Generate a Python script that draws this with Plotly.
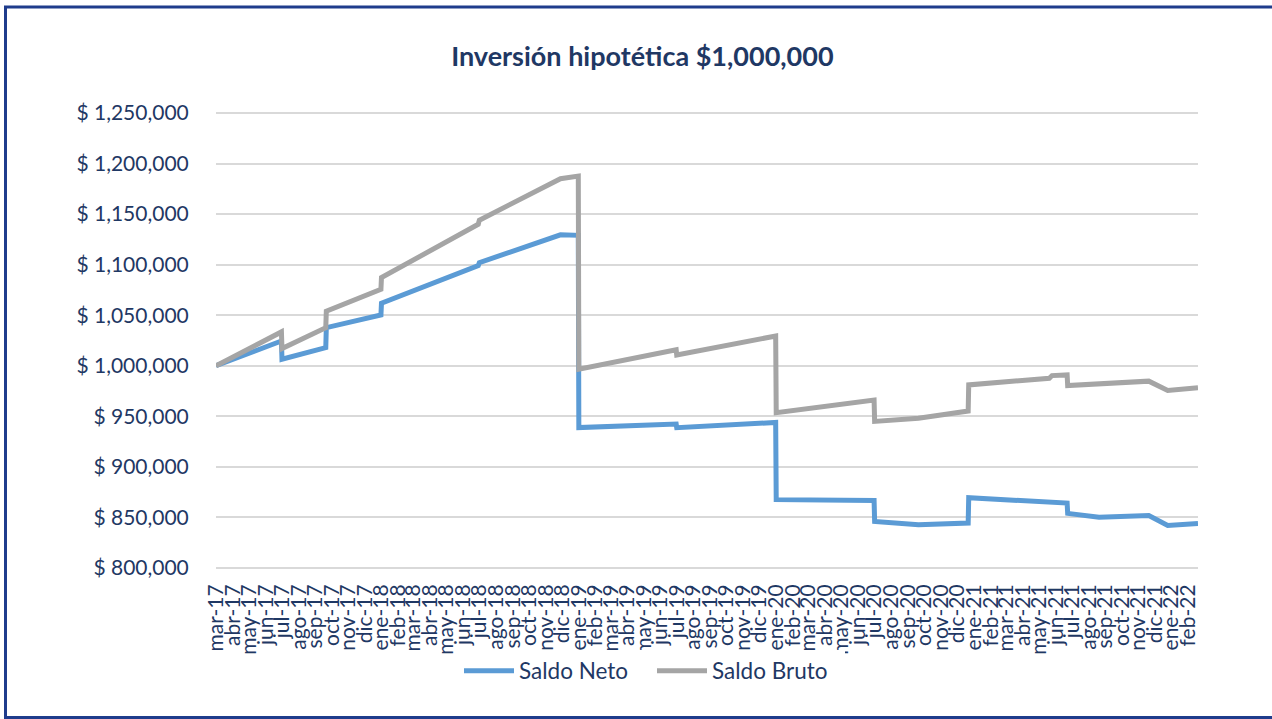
import plotly.graph_objects as go

# ---- data ----
dates = [
    "2017-03-01", "2017-06-30", "2017-07-01", "2017-09-20", "2017-09-21",
    "2017-12-31", "2018-01-01", "2018-06-29", "2018-07-01", "2018-11-28",
    "2018-12-31", "2019-01-01", "2019-06-30", "2019-07-01", "2019-12-31",
    "2020-01-01", "2020-06-30", "2020-07-01", "2020-09-20", "2020-12-21",
    "2020-12-22", "2021-05-20", "2021-05-25", "2021-06-22", "2021-06-23",
    "2021-08-20", "2021-11-20", "2021-12-25", "2022-02-19",
]
saldo_neto = [
    1000000, 1024500, 1006500, 1018000, 1037700,
    1050200, 1061800, 1099000, 1102000, 1129500,
    1129000, 938900, 942300, 938800, 943900,
    867600, 866800, 846000, 842800, 844500,
    869500, 865800, 865600, 864200, 854000,
    850200, 851800, 842000, 844000,
]
saldo_bruto = [
    1000000, 1033500, 1017000, 1037700, 1054000,
    1075600, 1087200, 1140000, 1144000, 1185000,
    1187600, 996500, 1015800, 1010600, 1029500,
    953600, 966100, 945000, 948200, 955200,
    981100, 987700, 990300, 991000, 980400,
    982300, 984800, 975500, 978200,
]

month_ticks = [f"{2017 + (2 + i) // 12}-{(2 + i) % 12 + 1:02d}-01" for i in range(60)]
mes = ["ene", "feb", "mar", "abr", "may", "jun", "jul", "ago", "sep", "oct", "nov", "dic"]
month_labels = [f"{mes[(2 + i) % 12]}-{(17 + (2 + i) // 12):02d}" for i in range(60)]

y_ticks = list(range(800000, 1250001, 50000))
y_labels = [f"$ {v:,.0f}" for v in y_ticks]

# ---- styling ----
W, H = 1272, 719
L, R, T, B = 216, 74, 112, 150
TXT = "#1F3864"
FONT = "Lato"

fig = go.Figure()
fig.add_trace(go.Scatter(x=dates, y=saldo_neto, mode="lines", name="Saldo Neto",
                         line=dict(color="#5B9BD5", width=5)))
fig.add_trace(go.Scatter(x=dates, y=saldo_bruto, mode="lines", name="Saldo Bruto",
                         line=dict(color="#A5A5A5", width=5)))

pw, ph = W - L - R, H - T - B
def px(x):
    return (x - L) / pw
def py(y):
    return (H - B - y) / ph

fig.update_layout(
    width=W, height=H,
    margin=dict(l=L, r=R, t=T, b=B, pad=0, autoexpand=False),
    paper_bgcolor="white", plot_bgcolor="white",
    font=dict(family=FONT, size=21, color=TXT),
    title=dict(text="<b>Inversión hipotética $1,000,000</b>", x=0.505, xref="container",
               xanchor="center", y=1 - 57 / H, yref="container", yanchor="middle",
               font=dict(family=FONT, size=27, color=TXT)),
    xaxis=dict(type="date", range=["2017-03-01", "2022-02-19"], automargin=False,
               tickmode="array", tickvals=month_ticks, ticktext=month_labels,
               tickangle=-90, showgrid=False, zeroline=False, showline=False,
               ticks="outside", ticklen=6, tickcolor="rgba(0,0,0,0)",
               tickfont=dict(family=FONT, size=21, color=TXT)),
    yaxis=dict(range=[799000, 1251000], automargin=False, tickmode="array",
               tickvals=y_ticks, ticktext=y_labels, showgrid=True,
               gridcolor="#D9D9D9", gridwidth=1.5,
               zeroline=False, showline=False, ticks="outside", ticklen=22,
               tickcolor="rgba(0,0,0,0)",
               tickfont=dict(family=FONT, size=21, color=TXT)),
    legend=dict(orientation="h", x=459 / W, xref="container", xanchor="left",
                y=1 - 671 / H, yref="container", yanchor="middle",
                font=dict(family=FONT, size=22.5, color=TXT), itemwidth=50,
                entrywidth=128, entrywidthmode="pixels"),
    showlegend=True,
    shapes=[dict(type="rect", xref="paper", yref="paper",
                 x0=px(5.5), x1=px(1500), y0=py(717.5), y1=py(7),
                 line=dict(color="#1F3C8C", width=3), fillcolor="rgba(0,0,0,0)",
                 layer="below")],
)

fig.write_html("out.html", config={"displayModeBar": False},
               post_script="document.body.style.margin='0';document.body.style.overflow='hidden';")
